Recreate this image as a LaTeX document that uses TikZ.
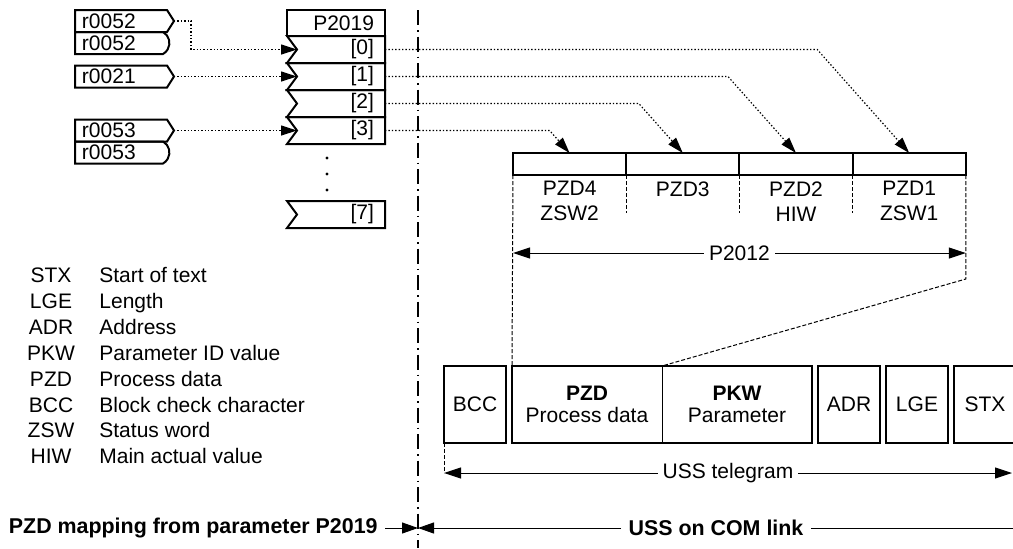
\documentclass[tikz,border=0pt]{standalone}
\usepackage{fontspec}
\setmainfont{Liberation Sans}
\usetikzlibrary{positioning,shapes.symbols,shapes.misc,arrows.meta,calc}

\tikzset{
  every node/.style={font=\fontsize{10.5}{12}\selectfont, inner sep=0pt},
  boxline/.style={draw, line width=1pt, outer sep=0pt},
  inbox/.style={boxline, signal, signal to=east, signal pointer angle=115, minimum height=11pt, inner xsep=3.5pt, text width=39pt, align=left},
  inround/.style={boxline, rounded rectangle, rounded rectangle west arc=none, rounded rectangle arc length=120, minimum height=11pt, inner xsep=3.5pt, text width=39pt, align=left},
  headbox/.style={boxline, minimum height=13pt, inner xsep=5.5pt, text width=38pt, align=right},
  rowbox/.style={boxline, signal, signal to=nowhere, signal from=west, signal pointer angle=107, minimum height=13.5pt, inner xsep=5.5pt, text width=33pt, align=right},
  secbox/.style={boxline, minimum width=56.6pt, minimum height=11pt},
  tbox/.style={boxline, minimum width=31pt, minimum height=38.5pt, align=center},
  lbl/.style={align=center, font=\fontsize{10.5}{12.5}\selectfont},
  twolines/.style={align=center, font=\fontsize{10.5}{11}\selectfont},
  boldlbl/.style={font=\fontsize{10.7}{12}\selectfont\bfseries, inner xsep=3.5pt},
  dimtext/.style={fill=white, inner xsep=2.5pt, inner ysep=1pt},
  sigline/.style={line width=0.6pt, dash pattern=on 0.7pt off 1pt, -{Triangle[length=8pt,width=5pt]}},
  hairdash/.style={line width=0.5pt, dash pattern=on 2pt off 1pt},
  dimline/.style={line width=0.5pt, {Triangle[length=8.5pt,width=5.5pt]}-{Triangle[length=8.5pt,width=5.5pt]}},
  sepline/.style={line width=0.7pt, dash pattern=on 7.5pt off 2.5pt on 0.75pt off 2.5pt}
}

\begin{document}
\begin{tikzpicture}[x=0.5pt, y=-0.5pt]
  \useasboundingbox (0,0) rectangle (1013,548);

  % source parameters
  \node[inbox, anchor=west] (r52a) at (75,21) {r0052};
  \node[inround, anchor=west] (r52b) at (75,43) {r0052};
  \node[inbox, anchor=west] (r21) at (75,76.5) {r0021};
  \node[inbox, anchor=west] (r53a) at (75,130.5) {r0053};
  \node[inround, anchor=west] (r53b) at (75,152.5) {r0053};

  % P2019 index list
  \node[headbox, anchor=east] (p2019) at (385,23) {P2019};
  \foreach \i/\y in {0/49.5,1/76.5,2/103.5,3/130.5}
    \node[rowbox, anchor=east] (p\i) at (385,\y) {[\i]};
  \node[rowbox, anchor=east] (p7) at (385,214.5) {[7]};
  \foreach \y in {158,174,190}
    \fill (327,\y) circle (0.8pt);

  \draw[sigline] (r52a.east) -- ++(17,0) |- (p0.west);
  \draw[sigline] (r21.east) -- (p1.west);
  \draw[sigline] (r53a.east) -- (p3.west);

  % PZD words
  \node[secbox, anchor=north west] (sec4) at (513,153) {};
  \node[secbox, right=0pt of sec4] (sec3) {};
  \node[secbox, right=0pt of sec3] (sec2) {};
  \node[secbox, right=0pt of sec2] (sec1) {};
  \node[lbl, below=3pt of sec4] (l4) {PZD4\\ZSW2};
  \node[lbl, below=3pt of sec3] (l3) {PZD3};
  \node[lbl, below=3pt of sec2] (l2) {PZD2\\HIW};
  \node[lbl, below=3pt of sec1] (l1) {PZD1\\ZSW1};

  \draw[sigline] (p0.east) -- ([xshift=-46pt]p0.east -| sec1.north) -- (sec1.north);
  \draw[sigline] (p1.east) -- ([xshift=-34pt]p1.east -| sec2.north) -- (sec2.north);
  \draw[sigline] (p2.east) -- ([xshift=-22pt]p2.east -| sec3.north) -- (sec3.north);
  \draw[sigline] (p3.east) -- ([xshift=-10pt]p3.east -| sec4.north) -- (sec4.north);

  \draw[hairdash] (sec4.south east) -- ++(0,38);
  \draw[hairdash] (sec3.south east) -- ++(0,38);
  \draw[hairdash] (sec2.south east) -- ++(0,38);

  \coordinate (dimy) at (0,253);
  \draw[dimline] (sec4.south west |- dimy) -- node[dimtext] {P2012} (sec1.south east |- dimy);

  % USS telegram
  \node[tbox, anchor=west] (tbcc) at (444,404.5) {BCC};
  \node[tbox, minimum width=150pt, right=3pt of tbcc] (tdata) {};
  \node[tbox, right=3pt of tdata] (tadr) {ADR};
  \node[tbox, right=3pt of tadr] (tlge) {LGE};
  \node[tbox, right=3pt of tlge] (tstx) {STX};
  \draw[line width=0.5pt] (tdata.north) -- (tdata.south);
  \node[twolines] (tpzd) at ($(tdata.center)!0.5!(tdata.west)$) {\textbf{PZD}\\Process data};
  \node[twolines] (tpkw) at ($(tdata.center)!0.5!(tdata.east)$) {\textbf{PKW}\\Parameter};

  \draw[hairdash] (sec4.south west) -- (tdata.north west);
  \draw[hairdash] (sec1.south east) -- ++(0,104) -- (tdata.north);

  \coordinate (ussl) at (444,473);
  \coordinate (ussr) at (1012,473);
  \draw[hairdash] (tbcc.south west) -- (ussl);
  \draw[dimline] (ussl) -- node[dimtext] {USS telegram} (ussr);

  % legend
  \foreach \ab/\txt [count=\i] in {STX/Start of text, LGE/Length, ADR/Address,
      PKW/Parameter ID value, PZD/Process data, BCC/Block check character,
      ZSW/Status word, HIW/Main actual value} {
    \node[anchor=base] (ab\i) at (51,{282.5+25.9*(\i-1)}) {\ab};
    \node[anchor=base west] (tx\i) at (99,{282.5+25.9*(\i-1)}) {\txt};
  }

  % separation line and bottom captions
  \coordinate (septop) at (418,10);
  \coordinate (sepbot) at (418,548);
  \draw[sepline] (septop) -- (sepbot);

  \coordinate (sepmid) at (418,528);
  \coordinate (comend) at (1013,528);
  \node[boldlbl, anchor=east] (mapl) at (385,528) {PZD mapping from parameter P2019};
  \node[boldlbl] (coml) at (716,528) {USS on COM link};
  \draw[line width=0.5pt, -{Triangle[length=8pt,width=5.5pt]}] (mapl.east) -- (sepmid);
  \draw[line width=0.5pt, -{Triangle[length=8pt,width=5.5pt]}] (coml.west) -- (sepmid);
  \draw[line width=0.5pt] (coml.east) -- (comend);
\end{tikzpicture}
\end{document}
